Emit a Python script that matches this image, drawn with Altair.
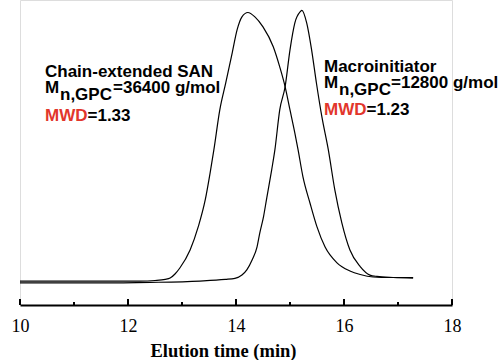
import altair as alt
import pandas as pd

# Chain-extended SAN trace (elution time in min, normalized detector response)
san_time = [10.00, 11.48, 12.22, 12.50, 12.69, 12.78, 12.87, 12.96, 13.15, 13.30, 13.43, 13.52,
            13.59, 13.70, 13.81, 13.93, 14.02, 14.11, 14.22, 14.35, 14.50, 14.69, 14.81, 14.91,
            15.00, 15.09, 15.15, 15.24, 15.37, 15.50, 15.65, 15.87, 16.11, 16.30, 16.54, 16.85, 17.28]
san_resp = [0.007, 0.007, 0.007, 0.009, 0.013, 0.018, 0.033, 0.055, 0.121, 0.206, 0.305, 0.404,
            0.489, 0.636, 0.735, 0.846, 0.930, 0.978, 0.994, 0.978, 0.941, 0.868, 0.794, 0.721,
            0.636, 0.551, 0.489, 0.390, 0.294, 0.206, 0.132, 0.074, 0.044, 0.031, 0.022, 0.020, 0.020]

# Macroinitiator trace
mac_time = [10.00, 11.48, 12.41, 13.33, 13.80, 13.98, 14.11, 14.20, 14.30, 14.39, 14.44, 14.51,
            14.57, 14.66, 14.72, 14.81, 14.91, 15.00, 15.09, 15.19, 15.22, 15.31, 15.40, 15.49,
            15.59, 15.71, 15.83, 15.96, 16.11, 16.30, 16.48, 16.61, 16.91, 17.28]
mac_resp = [0.000, 0.000, 0.002, 0.007, 0.013, 0.017, 0.029, 0.048, 0.085, 0.133, 0.183, 0.244,
            0.313, 0.415, 0.489, 0.636, 0.722, 0.857, 0.956, 0.997, 1.002, 0.955, 0.857, 0.734,
            0.611, 0.489, 0.342, 0.221, 0.121, 0.060, 0.029, 0.024, 0.020, 0.018]

major_ticks = [10, 12, 14, 16, 18]
minor_ticks = [11, 13, 15, 17]

rows = []
for i, (t, v) in enumerate(zip(san_time, san_resp)):
    rows.append({"series": "SAN", "t": t, "v": v, "i": i})
for i, (t, v) in enumerate(zip(mac_time, mac_resp)):
    rows.append({"series": "Macro", "t": t, "v": v, "i": i})
df = pd.DataFrame(rows)

xs = alt.Scale(domain=[10, 18], nice=False, zero=False)
ys = alt.Scale(domain=[-0.081, 1.04], nice=False, zero=False)

lines = alt.Chart(df).mark_line(color="black", strokeWidth=1.2, interpolate="monotone").encode(
    x=alt.X("t:Q", scale=xs, axis=alt.Axis(
        values=major_ticks, grid=False, ticks=False, tickSize=0, domain=True, labelFlush=False,
        domainColor="black", domainWidth=2, labelFont="Liberation Serif", labelFontSize=18,
        labelColor="black", labelPadding=12, title="Elution time (min)",
        titleFont="Liberation Serif", titleFontSize=18.5, titleFontWeight="bold",
        titleColor="black", titleX=203, titleY=51, titleBaseline="alphabetic",
        titleAnchor="middle")),
    y=alt.Y("v:Q", scale=ys, axis=None),
    detail="series:N",
    order="i:Q",
)

major = alt.Chart(pd.DataFrame({"t": major_ticks})).mark_rule(color="black", strokeWidth=2).encode(
    x=alt.X("t:Q", scale=xs), y=alt.value(299), y2=alt.value(305))
minor = alt.Chart(pd.DataFrame({"t": minor_ticks})).mark_rule(color="black", strokeWidth=2).encode(
    x=alt.X("t:Q", scale=xs), y=alt.value(302), y2=alt.value(305))

RED = "#e2362c"

def txt(s, x, y, color="black"):
    return alt.Chart(pd.DataFrame({"s": [s]})).mark_text(
        font="Liberation Sans", fontSize=17, fontWeight="bold", align="left",
        baseline="alphabetic", color=color).encode(
        x=alt.value(x), y=alt.value(y), text="s:N")

labels = [
    txt("Chain-extended SAN", 25, 77),
    txt("M", 25, 93), txt("n,GPC", 40, 100), txt("=36400 g/mol", 93, 93),
    txt("MWD", 25, 121, RED), txt("=1.33", 67.5, 121),
    txt("Macroinitiator", 304, 72),
    txt("M", 304, 88), txt("n,GPC", 319, 95), txt("=12800 g/mol", 371, 88),
    txt("MWD", 304, 115, RED), txt("=1.23", 346.5, 115),
]

chart = alt.layer(lines, major, minor, *labels).properties(
    width=432, height=305,
    autosize=alt.AutoSizeParams(type="none"),
    padding={"left": 20, "top": 0, "right": 51, "bottom": 55},
).configure_view(stroke=None).configure(background="white")

chart.save("out.html", embed_options={"renderer": "svg", "actions": False})
